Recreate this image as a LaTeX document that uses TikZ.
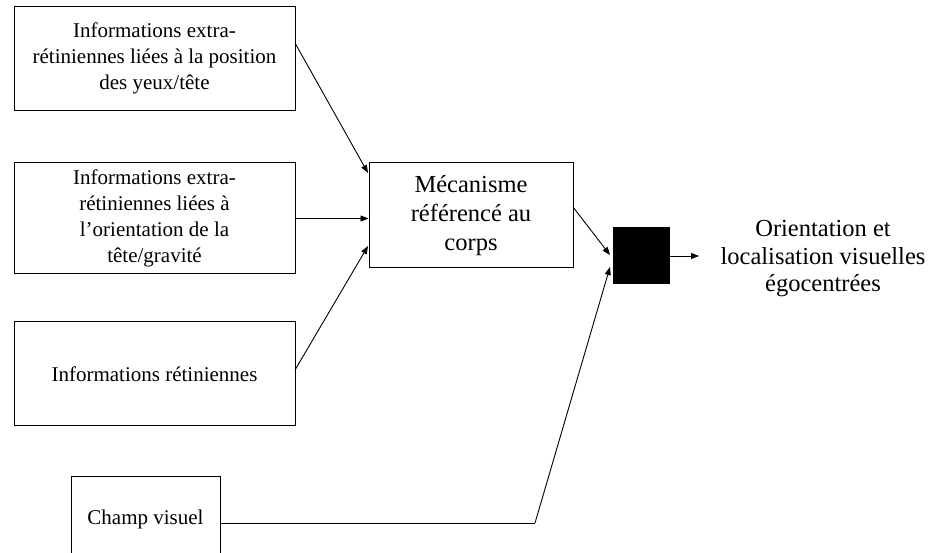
\documentclass[tikz,border=0pt]{standalone}
\usepackage{fontspec}
\setmainfont{Liberation Serif}
\usetikzlibrary{arrows.meta}
\begin{document}
\begin{tikzpicture}[x=1pt,y=-1pt,
  box/.style={draw,line width=1pt,rectangle,inner sep=0pt,align=center,
    font=\fontsize{21}{26}\selectfont},
  bigbox/.style={box,font=\fontsize{24.5}{29}\selectfont},
  lbl/.style={align=center,inner sep=0pt,font=\fontsize{24.5}{27.5}\selectfont},
  arr/.style={line width=0.9pt,-{Triangle[length=8pt,width=6pt]}},
  con/.style={line width=0.9pt}]
\clip (0,0) rectangle (930,553);
\fill[white] (0,0) rectangle (930,553);
\node[box,minimum width=281pt,minimum height=104pt] (b1) at (154.5,58.5)
  {Informations extra-\\rétiniennes liées à la position\\des yeux/tête};
\node[box,minimum width=281pt,minimum height=111pt] (b2) at (154.5,218.5)
  {Informations extra-\\rétiniennes liées à\\l’orientation de la\\tête/gravité};
\node[box,minimum width=281pt,minimum height=104pt] (b3) at (154.5,374)
  {Informations rétiniennes};
\node[box,minimum width=149pt,minimum height=84pt] (b4) at (145.5,519)
  {Champ visuel};
\node[bigbox,minimum width=204pt,minimum height=105pt] (m) at (471,215.5)
  {Mécanisme\\référencé au\\corps};
\node[draw,fill=black,line width=1pt,minimum width=56pt,minimum height=56pt,inner sep=0pt] (s) at (641,256) {};
\node[lbl] (out) at (823,259) {Orientation et\\localisation visuelles\\égocentrées};
\coordinate (p1) at (295,43);
\coordinate (q1) at (368,173);
\coordinate (p3) at (295,370);
\coordinate (q3) at (368,246);
\coordinate (m1) at (573,207);
\coordinate (s1) at (610,255);
\coordinate (c1) at (220,523);
\coordinate (c2) at (535,523);
\coordinate (s2) at (610,267);
\coordinate (o1) at (699,256);
\draw[arr] (p1) -- (q1);
\draw[arr] (b2.east) -- (m.west |- b2.east);
\draw[arr] (p3) -- (q3);
\draw[arr] (m1) -- (s1);
\draw[con] (c1) -- (c2);
\draw[arr] (c2) -- (s2);
\draw[arr] (s.east |- o1) -- (o1);
\end{tikzpicture}
\end{document}
